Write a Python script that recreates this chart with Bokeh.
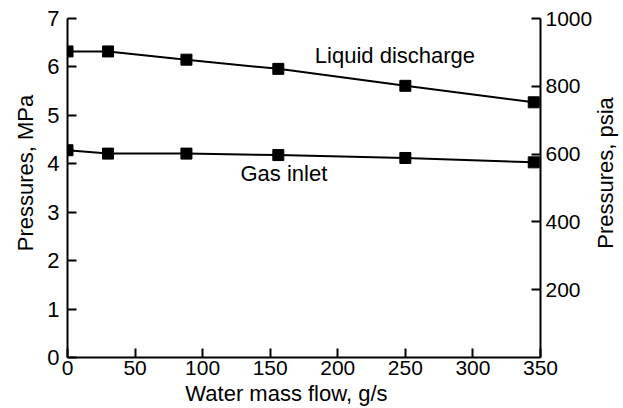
import math
from bokeh.plotting import figure
from bokeh.models import Range1d, LinearAxis, FixedTicker, Label
from bokeh.embed import file_html
from bokeh.resources import INLINE

# data
flow = [0, 30, 88, 156, 250, 345]
liquid_discharge = [6.32, 6.32, 6.15, 5.96, 5.61, 5.27]
gas_inlet = [4.28, 4.21, 4.21, 4.18, 4.12, 4.03]
x_ticks = [0, 50, 100, 150, 200, 250, 300, 350]
y_ticks = [0, 1, 2, 3, 4, 5, 6, 7]
psia_ticks = [200, 400, 600, 800, 1000]

FONT = "Liberation Sans"

p = figure(width=623, height=408, output_backend="svg", toolbar_location=None,
           x_range=Range1d(0, 350), y_range=Range1d(0, 7),
           min_border_left=67, min_border_right=83, min_border_top=18, min_border_bottom=51)
p.extra_y_ranges = {"psia": Range1d(0, 1000)}
p.grid.visible = False
p.outline_line_color = None
p.background_fill_color = "white"
p.border_fill_color = "white"

for ys in (liquid_discharge, gas_inlet):
    p.line(flow, ys, line_color="black", line_width=2)
    p.scatter(flow, ys, marker="square", size=11, fill_color="black", line_color="black")

def style(ax, ticks, tick_size):
    ax.ticker = FixedTicker(ticks=ticks)
    ax.axis_line_width = 2
    ax.axis_line_color = "black"
    ax.major_tick_line_width = 2
    ax.major_tick_in = 9
    ax.major_tick_out = 0
    ax.minor_tick_line_color = None
    ax.major_label_text_font = FONT
    ax.major_label_text_font_size = tick_size
    ax.major_label_text_color = "black"

style(p.xaxis[0], x_ticks, "21px")
p.xaxis[0].major_label_standoff = 3

style(p.yaxis[0], y_ticks, "22px")
p.yaxis[0].major_label_standoff = 8

right = LinearAxis(y_range_name="psia")
style(right, psia_ticks, "21px")
right.major_label_standoff = 5
p.add_layout(right, "right")

def text(x, y, s, angle=0.0, align="left", place="center"):
    p.add_layout(Label(x=x, y=y, text=s, angle=angle, text_font=FONT,
                       text_font_size="22px", text_align=align,
                       text_baseline="middle", text_color="black"), place)

# axis titles (placed in the side panels so they are not clipped to the frame)
text(162, -0.74, "Water mass flow, g/s", align="center", place="below")
text(-31, 3.81, "Pressures, MPa", angle=math.pi / 2, align="center", place="left")
text(398, 3.81, "Pressures, psia", angle=math.pi / 2, align="center", place="right")

# series labels
text(183, 6.23, "Liquid discharge")
text(128, 3.79, "Gas inlet")

open("out.html", "w").write(file_html(p, INLINE))
